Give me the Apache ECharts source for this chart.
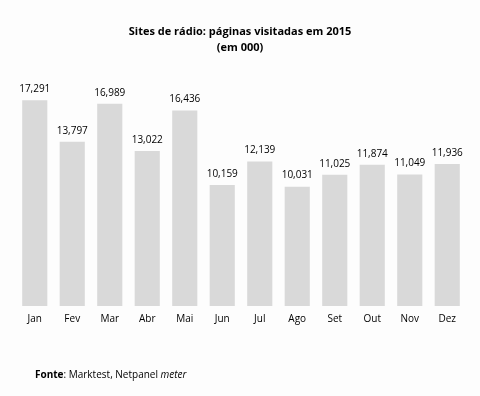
<!DOCTYPE html>
<html>
<head>
<meta charset="utf-8">
<script src="https://cdn.jsdelivr.net/npm/echarts@6/dist/echarts.min.js"></script>
<style>
html, body { margin: 0; padding: 0; background: #fdfdfd; }
#main { width: 480px; height: 396px; }
</style>
</head>
<body>
<div id="main"></div>
<script>
var months = ['Jan','Fev','Mar','Abr','Mai','Jun','Jul','Ago','Set','Out','Nov','Dez'];
var visits = [17291, 13797, 16989, 13022, 16436, 10159, 12139, 10031, 11025, 11874, 11049, 11936];

var myChart = echarts.init(document.getElementById('main'));

var option = {
    backgroundColor: '#fdfdfd',
    textStyle: { fontFamily: 'Open Sans' },
    title: {
        text: 'Sites de rádio: páginas visitadas em 2015\n(em 000)',
        left: 'center',
        top: 19,
        textStyle: { fontSize: 11, fontWeight: 'bold', color: '#000', lineHeight: 16, fontFamily: 'Open Sans' }
    },
    grid: { left: 16, right: 14, top: 68, bottom: 90 },
    xAxis: {
        type: 'category',
        data: months,
        axisLine: { show: false },
        axisTick: { show: false },
        axisLabel: { color: '#000', fontSize: 10, margin: 8 }
    },
    yAxis: {
        type: 'value',
        min: 0,
        max: 20000,
        show: false,
        splitLine: { show: false }
    },
    series: [
        {
            type: 'bar',
            data: visits,
            barCategoryGap: '33%',
            itemStyle: { color: '#d9d9d9' },
            label: {
                show: true,
                position: 'top',
                distance: 6,
                color: '#000',
                fontSize: 10,
                formatter: function (p) {
                    return p.value.toLocaleString('en-US');
                }
            }
        }
    ],
    graphic: [
        {
            type: 'text',
            left: 35,
            top: 370,
            style: {
                text: '{b|Fonte}: Marktest, Netpanel {i|meter}',
                fontSize: 10,
                fontFamily: 'Open Sans',
                fill: '#000',
                rich: {
                    b: { fontWeight: 'bold', fontSize: 10, fontFamily: 'Open Sans' },
                    i: { fontStyle: 'italic', fontSize: 10, fontFamily: 'Open Sans' }
                }
            }
        }
    ]
};

myChart.setOption(option);
</script>
</body>
</html>
